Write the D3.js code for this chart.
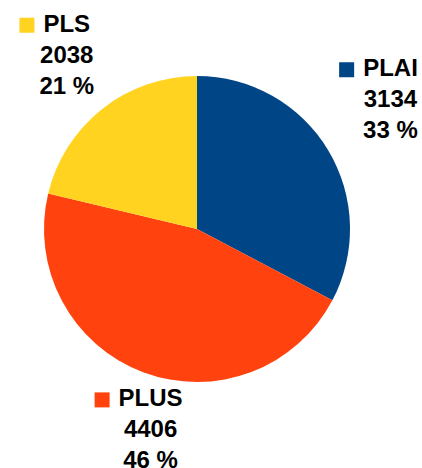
<!DOCTYPE html>
<html>
<head>
<meta charset="utf-8">
<script src="https://cdn.jsdelivr.net/npm/d3@7"></script>
<style>
  body { margin: 0; background: #fff; }
  text { font-family: "Liberation Sans", Arial, sans-serif; font-weight: bold; font-size: 24px; fill: #000; }
</style>
</head>
<body>
<svg id="chart" width="422" height="468"></svg>
<script>
var categories = ['PLAI', 'PLUS', 'PLS'];
var values = [3134, 4406, 2038];
var percents = ['33 %', '46 %', '21 %'];
var colors = ['#004586', '#ff420e', '#ffd320'];

var svg = d3.select('#chart'),
  cx = 197, cy = 229, r = 153, labelR = 166;

var pie = d3.pie().sort(null).value(function(d){ return d; });
var arc = d3.arc().innerRadius(0).outerRadius(r);
var arcs = pie(values);

var g = svg.append('g').attr('transform', 'translate(' + [cx, cy] + ')');

g.selectAll('path').data(arcs).enter().append('path')
  .attr('d', arc)
  .attr('fill', function(d, i){ return colors[i]; });

// labels: square + name, value, percent; block corner sits at the mid-angle point
arcs.forEach(function(d, i){
  var a = (d.startAngle + d.endAngle) / 2,
    sx = Math.sin(a), sy = -Math.cos(a),
    px = sx * labelR, py = sy * labelR;
  var lab = g.append('g');
  lab.append('rect').attr('x', 0).attr('y', -14).attr('width', 15).attr('height', 15)
    .attr('fill', colors[i]);
  var name = lab.append('text').attr('x', 24).attr('y', 0).text(categories[i]);
  var w = name.node().getBBox().width, mid = 24 + w / 2;
  lab.append('text').attr('x', mid).attr('y', 31).attr('text-anchor', 'middle').text(values[i]);
  lab.append('text').attr('x', mid).attr('y', 62).attr('text-anchor', 'middle').text(percents[i]);
  var bb = lab.node().getBBox();
  var tx = sx > 0.5 ? px - bb.x : sx < -0.5 ? px - (bb.x + bb.width) : px - (bb.x + bb.width / 2);
  var ty = sy > 0.3 ? py - bb.y : sy < -0.3 ? py - (bb.y + bb.height) : py - (bb.y + bb.height / 2);
  lab.attr('transform', 'translate(' + [tx, ty] + ')');
});
</script>
</body>
</html>
